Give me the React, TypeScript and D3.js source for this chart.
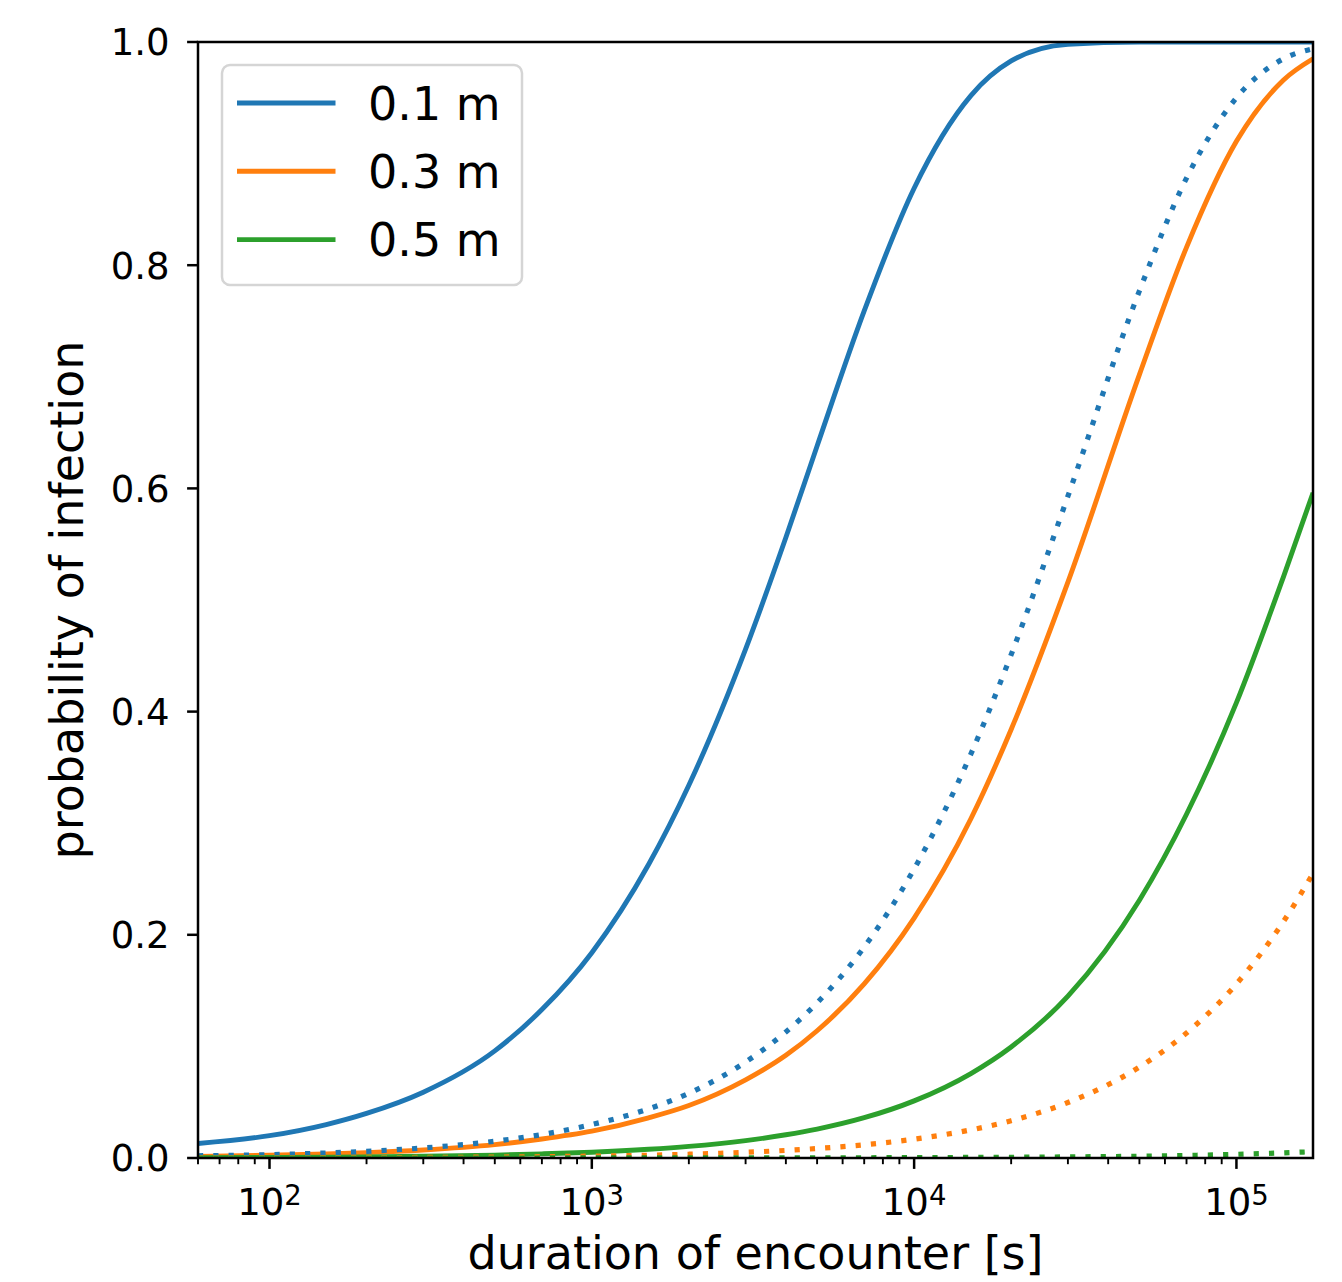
import React, { useEffect, useRef } from 'react';
import * as d3 from 'd3';

// encounter durations in seconds (x positions of the sampled points)
const durations = [60, 100, 150, 200, 300, 500, 700, 1000, 1500, 2000, 3000, 4000, 5000, 7000,
  10000, 15000, 20000, 30000, 50000, 70000, 100000, 140000, 172800];

// probability of infection
const p01Solid = [0.013, 0.020, 0.030, 0.040, 0.059, 0.096, 0.133, 0.184, 0.263, 0.334, 0.456, 0.556,
  0.638, 0.759, 0.869, 0.952, 0.983, 0.998, 1.0, 1.0, 1.0, 1.0, 1.0];
const p03Solid = [0.0015, 0.0024, 0.0036, 0.0048, 0.0072, 0.012, 0.017, 0.024, 0.036, 0.047, 0.070, 0.092,
  0.114, 0.156, 0.215, 0.304, 0.384, 0.516, 0.702, 0.816, 0.911, 0.966, 0.985];
const p05Solid = [0.0003, 0.0005, 0.0008, 0.001, 0.0016, 0.0026, 0.0037, 0.0052, 0.0078, 0.0104, 0.0156, 0.0208,
  0.0259, 0.0361, 0.0512, 0.0757, 0.0995, 0.145, 0.231, 0.308, 0.408, 0.521, 0.596];
const p01Dotted = [0.002, 0.003, 0.0045, 0.006, 0.009, 0.015, 0.021, 0.030, 0.044, 0.058, 0.086, 0.113,
  0.139, 0.189, 0.259, 0.362, 0.451, 0.593, 0.777, 0.878, 0.950, 0.985, 0.994];
const p03Dotted = [0.0001, 0.00017, 0.00026, 0.00034, 0.0005, 0.00085, 0.0012, 0.0017, 0.0025, 0.0034, 0.0051, 0.0068,
  0.0085, 0.0118, 0.0169, 0.0252, 0.0334, 0.0497, 0.0815, 0.112, 0.156, 0.212, 0.255];
const p05Dotted = [0.000002, 0.000003, 0.000005, 0.000007, 0.00001, 0.000017, 0.000023, 0.00003, 0.00005, 0.00007, 0.0001, 0.00013,
  0.00017, 0.00023, 0.00033, 0.0005, 0.00066, 0.001, 0.0016, 0.0023, 0.0033, 0.0046, 0.0057];

const legendLabels = ['0.1 m', '0.3 m', '0.5 m'];
const yTicks = [0, 0.2, 0.4, 0.6, 0.8, 1.0];
const xDomain = [60, 172800];

const FONT = '"DejaVu Sans", Verdana, sans-serif';

const InfectionChart = () => {
  const svgRef = useRef<SVGSVGElement>(null);

  useEffect(() => {
    const margin = { top: 42, right: 29, bottom: 124, left: 198 };
    const width = 1342 - margin.left - margin.right;
    const height = 1282 - margin.top - margin.bottom;

    d3.select(svgRef.current).selectAll('*').remove();

    const root = d3.select(svgRef.current)
      .attr('width', 1342)
      .attr('height', 1282);

    root.append('rect').attr('width', 1342).attr('height', 1282).attr('fill', 'white');

    const svg = root.append('g')
      .attr('transform', `translate(${margin.left},${margin.top})`);

    const x = d3.scaleLog().domain(xDomain).range([0, width]);
    const y = d3.scaleLinear().domain([0, 1]).range([height, 0]);

    svg.append('clipPath').attr('id', 'plot-clip')
      .append('rect').attr('width', width).attr('height', height);

    const colors = ['#1f77b4', '#ff7f0e', '#2ca02c'];
    const series = [
      { values: p01Solid, color: colors[0], dotted: false },
      { values: p03Solid, color: colors[1], dotted: false },
      { values: p05Solid, color: colors[2], dotted: false },
      { values: p01Dotted, color: colors[0], dotted: true },
      { values: p03Dotted, color: colors[1], dotted: true },
      { values: p05Dotted, color: colors[2], dotted: true },
    ];

    const line = d3.line<number>()
      .x((d, i) => x(durations[i]))
      .y(d => y(d))
      .curve(d3.curveMonotoneX);

    const lines = svg.append('g').attr('clip-path', 'url(#plot-clip)');
    series.forEach(s => {
      lines.append('path')
        .datum(s.values)
        .attr('fill', 'none')
        .attr('stroke', s.color)
        .attr('stroke-width', s.dotted ? 5.2 : 4.9)
        .attr('stroke-dasharray', s.dotted ? '5.2 10.1' : null)
        .attr('d', line);
    });

    // x ticks (log, major at decades)
    const allTicks = x.ticks();
    const isMajor = (t: number) => Math.abs(Math.log10(t) - Math.round(Math.log10(t))) < 1e-9;
    const xt = svg.append('g').attr('transform', `translate(0,${height})`);
    allTicks.forEach(t => {
      const major = isMajor(t);
      xt.append('line')
        .attr('x1', x(t)).attr('x2', x(t))
        .attr('y1', 0).attr('y2', major ? 10.9 : 6.2)
        .attr('stroke', 'black')
        .attr('stroke-width', major ? 2.5 : 1.9);
      if (major) {
        const txt = xt.append('text')
          .attr('x', x(t))
          .attr('y', 57)
          .attr('text-anchor', 'middle')
          .style('font-family', FONT)
          .style('font-size', '37px');
        txt.append('tspan').text('10');
        txt.append('tspan')
          .attr('dy', -10)
          .style('font-size', '27.5px')
          .text(String(Math.round(Math.log10(t))));
      }
    });

    // y ticks
    const yt = svg.append('g');
    yTicks.forEach(t => {
      yt.append('line')
        .attr('x1', -10.9).attr('x2', 0)
        .attr('y1', y(t)).attr('y2', y(t))
        .attr('stroke', 'black')
        .attr('stroke-width', 2.5);
      yt.append('text')
        .attr('x', -28.5)
        .attr('y', y(t))
        .attr('dy', '0.36em')
        .attr('text-anchor', 'end')
        .style('font-family', FONT)
        .style('font-size', '37px')
        .text(t.toFixed(1));
    });

    // frame
    svg.append('rect')
      .attr('width', width)
      .attr('height', height)
      .attr('fill', 'none')
      .attr('stroke', 'black')
      .attr('stroke-width', 2.5);

    // axis labels
    svg.append('text')
      .attr('x', width / 2)
      .attr('y', height + 111)
      .attr('text-anchor', 'middle')
      .style('font-family', FONT)
      .style('font-size', '46px')
      .text('duration of encounter [s]');

    svg.append('text')
      .attr('transform', `translate(${83 - margin.left},${height / 2}) rotate(-90)`)
      .attr('text-anchor', 'middle')
      .style('font-family', FONT)
      .style('font-size', '46px')
      .text('probability of infection');

    // legend
    const legend = svg.append('g').attr('transform', 'translate(24,23)');
    legend.append('rect')
      .attr('width', 300)
      .attr('height', 220)
      .attr('rx', 8)
      .attr('fill', 'white')
      .attr('fill-opacity', 0.8)
      .attr('stroke', '#d5d5d5')
      .attr('stroke-width', 2.5);

    legendLabels.forEach((label, i) => {
      const ly = 38 + i * 68.3;
      legend.append('line')
        .attr('x1', 15).attr('x2', 113.5)
        .attr('y1', ly).attr('y2', ly)
        .attr('stroke', colors[i])
        .attr('stroke-width', 4.9);
      legend.append('text')
        .attr('x', 146)
        .attr('y', ly + 16.5)
        .style('font-family', FONT)
        .style('font-size', '46px')
        .text(label);
    });
  }, []);

  return <svg ref={svgRef} style={{ position: 'absolute', left: 0, top: 0, display: 'block' }}></svg>;
};

export default function App() {
  return (
    <div>
      <InfectionChart />
    </div>
  );
}
